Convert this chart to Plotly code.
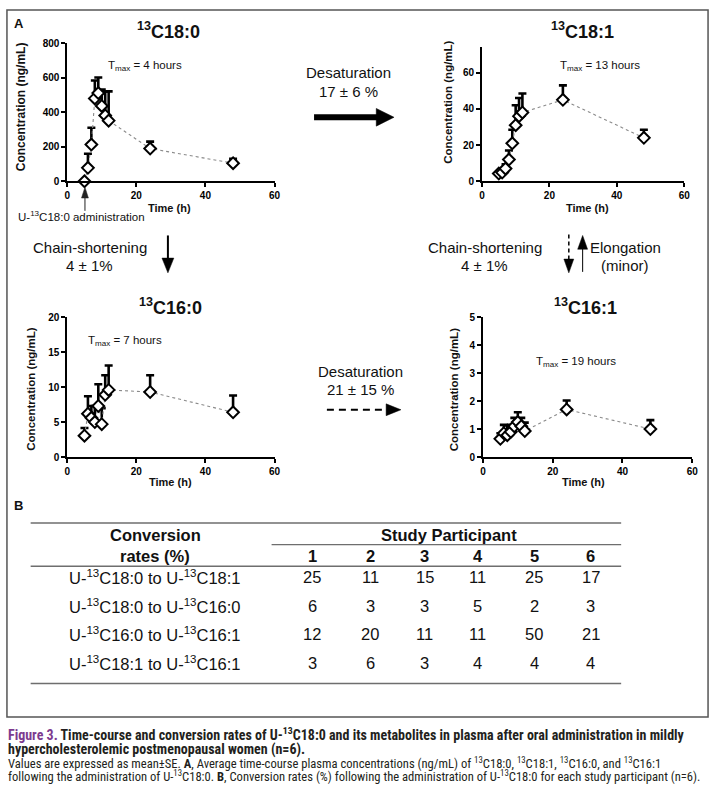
import plotly.graph_objects as go

W, H = 718, 788


def px(x):
    return x / W


def py(y):
    return 1 - y / H


# ---------------- data ----------------
time_h = [5, 6, 7, 8, 9, 10, 11, 12, 24, 48]

c18_0_mean = [0, 78, 213, 481, 512, 437, 382, 352, 190, 105]
c18_0_se = [0, 82, 98, 104, 90, 95, 140, 170, 40, 25]

c18_1_mean = [4.3, 4.8, 7.0, 12.0, 21.0, 31.0, 36.0, 38.0, 45.0, 24.0]
c18_1_se = [0.7, 1.0, 2.4, 5.0, 7.5, 11.0, 10.0, 10.5, 8.0, 4.5]

c16_0_mean = [3.05, 6.2, 5.6, 5.0, 7.3, 4.7, 8.9, 9.6, 9.3, 6.4]
c16_0_se = [1.1, 2.5, 1.7, 2.3, 3.1, 2.3, 2.8, 3.5, 2.4, 2.4]

c16_1_mean = [0.65, 0.85, 0.78, 0.9, 1.1, 1.25, 1.1, 0.93, 1.7, 1.0]
c16_1_se = [0.2, 0.3, 0.35, 0.25, 0.3, 0.35, 0.3, 0.3, 0.32, 0.32]

x_ticks = [0, 20, 40, 60]
y_ticks_18_0 = [0, 200, 400, 600, 800]
y_ticks_18_1 = [0, 20, 40, 60]
y_ticks_16_0 = [0, 5, 10, 15, 20]
y_ticks_16_1 = [0, 1, 2, 3, 4, 5]

participants = ["1", "2", "3", "4", "5", "6"]
conversion_labels = [
    "U-<sup>13</sup>C18:0 to U-<sup>13</sup>C18:1",
    "U-<sup>13</sup>C18:0 to U-<sup>13</sup>C16:0",
    "U-<sup>13</sup>C16:0 to U-<sup>13</sup>C16:1",
    "U-<sup>13</sup>C18:1 to U-<sup>13</sup>C16:1",
]
rate_c18_0_to_c18_1 = [25, 11, 15, 11, 25, 17]
rate_c18_0_to_c16_0 = [6, 3, 3, 5, 2, 3]
rate_c16_0_to_c16_1 = [12, 20, 11, 11, 50, 21]
rate_c18_1_to_c16_1 = [3, 6, 3, 4, 4, 4]
rates = [rate_c18_0_to_c18_1, rate_c18_0_to_c16_0, rate_c16_0_to_c16_1, rate_c18_1_to_c16_1]

# ---------------- panels ----------------
FONT = "Arial, Liberation Sans, sans-serif"
NARROW = "Liberation Sans Narrow, Arial Narrow, Roboto Condensed, Arial, sans-serif"

panels = [
    # mean, se, yticks, yrange, (x0,x1,ytop,ybottom) in px
    (c18_0_mean, c18_0_se, y_ticks_18_0, [0, 800], (65, 275, 38, 178)),
    (c18_1_mean, c18_1_se, y_ticks_18_1, [0, 74], (485, 690, 42, 178)),
    (c16_0_mean, c16_0_se, y_ticks_16_0, [0, 20], (65, 275, 316, 458)),
    (c16_1_mean, c16_1_se, y_ticks_16_1, [0, 5], (486, 698, 316, 458)),
]

fig = go.Figure()
layout_axes = {}
for i, (mean, se, yt, yr, (x0, x1, yt_px, yb_px)) in enumerate(panels, start=1):
    sfx = "" if i == 1 else str(i)
    fig.add_trace(go.Scatter(
        x=time_h, y=mean,
        mode="lines+markers",
        line=dict(color="#8a8a8a", width=1.1, dash="dot"),
        marker=dict(symbol="diamond", size=9, color="white",
                    line=dict(color="black", width=2)),
        error_y=dict(type="data", symmetric=False, array=se,
                     arrayminus=[0] * len(se), color="black",
                     thickness=2.6, width=4),
        cliponaxis=False,
        showlegend=False,
        xaxis="x" + sfx, yaxis="y" + sfx,
    ))
    common = dict(showline=True, linecolor="black", linewidth=1.5,
                  ticks="outside", ticklen=4, tickwidth=1.5, tickcolor="black",
                  tickfont=dict(family=FONT, size=10, color="black", weight="bold"),
                  showgrid=False, zeroline=False, fixedrange=True)
    layout_axes["xaxis" + sfx] = dict(domain=[px(x0), px(x1)], range=[0, 60],
                                      tickvals=x_ticks, anchor="y" + sfx, **common)
    layout_axes["yaxis" + sfx] = dict(domain=[py(yb_px), py(yt_px)], range=yr,
                                      tickvals=yt, anchor="x" + sfx, **common)

fig.update_layout(**layout_axes)

ann = []


def txt(x, y, text, size=11, bold=False, color="#111", angle=0, xanchor="center", family=FONT):
    ann.append(dict(x=px(x), y=py(y), xref="paper", yref="paper", text=text,
                    showarrow=False, xanchor=xanchor, yanchor="middle",
                    textangle=angle,
                    font=dict(family=family, size=size, color=color,
                              weight="bold" if bold else "normal")))


# panel labels
txt(16, 18, "A", 13, True, xanchor="center")
txt(16, 507, "B", 13, True, xanchor="center")

# titles
txt(168, 25, "<sup>13</sup>C18:0", 18, True)
txt(587, 25, "<sup>13</sup>C18:1", 18, True)
txt(170, 305, "<sup>13</sup>C16:0", 18, True)
txt(590, 305, "<sup>13</sup>C16:1", 18, True)

# Tmax
txt(144, 61, "T<sub>max</sub> = 4 hours", 11.5)
txt(605, 61, "T<sub>max</sub> = 13 hours", 11.5)
txt(124, 340, "T<sub>max</sub> = 7 hours", 11.5)
txt(580, 362, "T<sub>max</sub> = 19 hours", 11.5)

# axis titles
ylab = "Concentration (ng/mL)"
txt(19, 102, ylab, 12, True, angle=-90)
txt(450, 98, ylab, 11.5, True, angle=-90)
txt(28, 389, ylab, 11.5, True, angle=-90)
txt(457, 390, ylab, 11.5, True, angle=-90)
txt(169, 205, "Time (h)", 11, True)
txt(592, 205, "Time (h)", 11, True)
txt(170, 483, "Time (h)", 11, True)
txt(588, 483, "Time (h)", 11, True)

# administration
txt(80, 213, "U-<sup>13</sup>C18:0 administration", 11.5)

# pathway labels
txt(350, 68, "Desaturation", 15)
txt(350, 87, "17 ± 6 %", 15)
txt(88, 245, "Chain-shortening", 15)
txt(88, 264, "4 ± 1%", 15)
txt(488, 245, "Chain-shortening", 15)
txt(488, 264, "4 ± 1%", 15)
txt(630, 245, "Elongation", 15)
txt(630, 264, "(minor)", 15)
txt(362, 371, "Desaturation", 15)
txt(362, 389, "21 ± 15 %", 15)

# table
txt(154, 537, "Conversion", 16.5, True)
txt(154, 558, "rates (%)", 16.5, True)
txt(452, 537, "Study Participant", 16.5, True)
col_x = [313, 372, 427, 481, 538, 595]
for cx, p in zip(col_x, participants):
    txt(cx, 558, p, 16.5, True)
row_y = [580, 609, 638, 667]
for ry, lab, vals in zip(row_y, conversion_labels, rates):
    txt(154, ry, lab, 16.5)
    for cx, v in zip(col_x, vals):
        txt(cx, ry, str(v), 16.5)

# caption
cap1 = ('<span style="color:#7d3a8f"><b>Figure 3.</b></span><b> Time-course and conversion rates of '
        'U-<sup>13</sup>C18:0 and its metabolites in plasma after oral administration in mildly</b>')
cap2 = "<b>hypercholesterolemic postmenopausal women (n=6).</b>"
cap3 = ("Values are expressed as mean±SE. <b>A</b>, Average time-course plasma concentrations (ng/mL) of "
        "<sup>13</sup>C18:0, <sup>13</sup>C18:1, <sup>13</sup>C16:0, and <sup>13</sup>C16:1")
cap4 = ("following the administration of U-<sup>13</sup>C18:0. <b>B</b>, Conversion rates (%) following the "
        "administration of U-<sup>13</sup>C18:0 for each study participant (n=6).")
txt(3, 739, cap1, 14, color="#231f20", xanchor="left", family=NARROW)
txt(3, 755, cap2, 14, color="#231f20", xanchor="left", family=NARROW)
txt(3, 768.5, cap3, 12.6, color="#231f20", xanchor="left", family=NARROW)
txt(3, 781.5, cap4, 12.6, color="#231f20", xanchor="left", family=NARROW)

# ---------------- shapes ----------------
shapes = []


def line(x0, y0, x1, y1, width=1.5, color="black", dash="solid"):
    shapes.append(dict(type="line", xref="paper", yref="paper",
                       x0=px(x0), y0=py(y0), x1=px(x1), y1=py(y1),
                       line=dict(color=color, width=width, dash=dash)))


def tri(pts, color="black"):
    d = "M " + " L ".join(f"{px(a):.5f},{py(b):.5f}" for a, b in pts) + " Z"
    shapes.append(dict(type="path", xref="paper", yref="paper", path=d,
                       fillcolor=color, line=dict(color=color, width=0.5)))


# outer box
shapes.append(dict(type="rect", xref="paper", yref="paper",
                   x0=px(4), y0=py(4), x1=px(714), y1=py(722),
                   line=dict(color="#555", width=1.5)))

# desaturation thick arrow
line(315, 113, 380, 113, width=6)
tri([(378, 104), (396, 113), (378, 122)])
# chain-shortening left
line(167, 233, 167, 258, width=2)
tri([(161, 256), (173, 256), (167, 271)])
# chain-shortening right (dashed)
line(573, 232, 573, 258, width=1.5, dash="4px,3px")
tri([(568, 257), (578, 257), (573, 271)])
# elongation up
line(587, 270, 587, 246, width=1)
tri([(582, 247), (592, 247), (587, 233)])
# desaturation dashed horizontal
line(328, 410, 390, 410, width=2, dash="7px,5px")
tri([(388, 404), (403, 410), (388, 416)])
# administration arrow
line(83, 208, 83, 194, width=1, color="#222")
tri([(79.5, 195), (86.5, 195), (83, 184)], color="#222")

# table rules
rule = "#6e6e6e"
line(28, 525, 626, 525, width=1.5, color=rule)
line(272, 547, 626, 547, width=1.2, color=rule)
line(28, 569, 626, 569, width=1.5, color=rule)
line(28, 688, 626, 688, width=1.5, color=rule)

fig.update_layout(
    width=W, height=H,
    margin=dict(l=0, r=0, t=0, b=0),
    paper_bgcolor="white", plot_bgcolor="white",
    annotations=ann, shapes=shapes,
    showlegend=False,
)

fig.write_html("out.html", config={"displayModeBar": False},
               post_script="document.body.style.margin='0';")
